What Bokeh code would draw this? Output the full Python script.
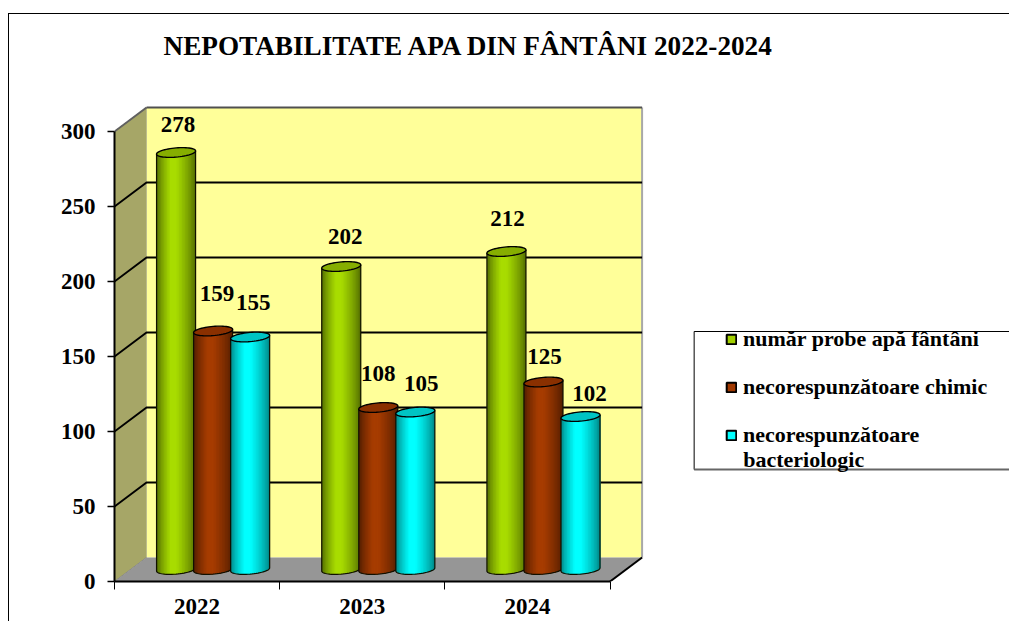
import math
from bokeh.plotting import figure
from bokeh.embed import file_html
from bokeh.resources import INLINE
from bokeh.core.properties import value
from bokeh.models import (FixedTicker, Legend, LegendItem)

# ---- data ----
years = ["2022", "2023", "2024"]
series_names = ["număr probe apă fântâni", "necorespunzătoare chimic", "necorespunzătoare"]
last_line = "bacteriologic"
probe = [278, 202, 212]
chimic = [159, 108, 125]
bacterio = [155, 105, 102]
y_ticks = [0, 50, 100, 150, 200, 250, 300]
title_text = "NEPOTABILITATE APA DIN FÂNTÂNI 2022-2024"

# ---- styles ----
body_mid = ["#A8DC00", "#A63C00", "#00FFFF"]
body_edge = ["#4C6400", "#4A1B00", "#007C7C"]
top_fill = ["#86AE00", "#8A3000", "#00C4C4"]
swatch = ["#A2D000", "#A03800", "#00FFFF"]
WALL_BACK = "#FFFF99"
WALL_SIDE = "#A6A667"
FLOOR = "#969696"
FONT = "Liberation Serif"

# pixel scales of the chart
PX_X = 165.0    # px per category
PX_Y = 1.5      # px per unit of value
DEPTH_X = 32 / PX_X
DEPTH_Y = 24 / PX_Y
XMAX = 3 + DEPTH_X
YMAX = 300 + DEPTH_Y
FRAME_W = 895
FRAME_H = 567
XEND = FRAME_W / PX_X
YEND = FRAME_H / PX_Y

p = figure(width=1001, height=608, output_backend="svg", toolbar_location=None,
           x_range=(0, XEND), y_range=(0, YEND),
           min_border_left=105, min_border_right=0, min_border_top=0, min_border_bottom=41)
p.styles = {"border-left": "1px solid black", "border-top": "1px solid black", "margin-top": "13px", "margin-left": "8px"}
p.grid.visible = False
p.outline_line_color = None
p.background_fill_color = "white"

# ---- 3D box ----
p.patch([0, DEPTH_X, DEPTH_X, 0], [0, DEPTH_Y, YMAX, 300], fill_color=WALL_SIDE, line_color="#808080", line_width=1)
p.patch([DEPTH_X, XMAX, XMAX, DEPTH_X], [DEPTH_Y, DEPTH_Y, YMAX, YMAX], fill_color=WALL_BACK, line_color=None)
p.patch([0, DEPTH_X, XMAX, 3], [0, DEPTH_Y, DEPTH_Y, 0], fill_color=FLOOR, line_color=None)
p.multi_line([[XMAX, XMAX], [DEPTH_X, XMAX], [XMAX, 3]], [[YMAX, DEPTH_Y], [YMAX, YMAX], [DEPTH_Y, 0]],
             line_color=["#A8A8A8", "#505050", "black"], line_width=2)
xs, ys = [], []
for t in y_ticks[1:-1]:
    xs.append([0, DEPTH_X, XMAX])
    ys.append([t, t + DEPTH_Y, t + DEPTH_Y])
p.multi_line(xs, ys, line_color="black", line_width=2)
p.line([0, DEPTH_X], [300, YMAX], line_color="#606060", line_width=2)

# ---- cylinders ----
RX = 19.5 / PX_X
RY = 4.6 / PX_Y
TILT = 1.6 / PX_Y
STEP = 37 / PX_X
N = 26


def hex2rgb(c):
    return [int(c[i:i + 2], 16) for i in (1, 3, 5)]


def shade(j, u):
    # u in 0..1 across the cylinder; brightest a little left of the centre
    peak = 0.42
    f = (u / peak) if u < peak else (1 - u) / (1 - peak)
    f = min(1.0, (f ** 0.7) * 1.12)
    a, b = hex2rgb(body_edge[j]), hex2rgb(body_mid[j])
    return "#%02X%02X%02X" % tuple(int(a[k] + (b[k] - a[k]) * f) for k in range(3))


def lower_arc(cx, cy, n=30):
    pts = [math.pi * (1 - i / n) for i in range(n + 1)]
    return ([cx + RX * math.cos(t) for t in pts],
            [cy - RY * math.sin(t) + TILT * math.cos(t) for t in pts])


def upper_arc(cx, cy, n=30):
    pts = [math.pi * i / n for i in range(n + 1)]
    return ([cx + RX * math.cos(t) for t in pts],
            [cy + RY * math.sin(t) + TILT * math.cos(t) for t in pts])


all_series = [probe, chimic, bacterio]
for i in range(len(years)):
    for j, vals in enumerate(all_series):
        cx = i + 0.5 + DEPTH_X / 2 + (j - 1) * STEP
        cy0 = DEPTH_Y / 2
        cy1 = vals[i] + DEPTH_Y / 2
        lx, ly = lower_arc(cx, cy0)
        ux, uy = lower_arc(cx, cy1)
        # body: strips painted left to right, each reaching to the right edge
        sx, sy, sc = [], [], []
        for s in range(N):
            k = s / N
            x0 = cx - RX + 2 * RX * k
            bx = [x0] + [a for a in lx if a > x0] + [cx + RX]
            by = []
            for a in bx:
                c = max(-1, min(1, (a - cx) / RX))
                by.append(cy0 - RY * math.sqrt(1 - c * c) + TILT * c)
            tx = [cx + RX, x0]
            ty = [cy1 + TILT, cy1 + TILT * (x0 - cx) / RX]
            sx.append(bx + tx)
            sy.append(by + ty)
            sc.append(shade(j, (s + 0.5) / N))
        p.patches(sx, sy, fill_color=sc, line_color=None)
        # outline of the body
        p.line([cx - RX] + lx + [cx + RX], [cy1 - TILT] + ly + [cy1 + TILT], line_color="#101000", line_width=1.2)
        # top ellipse
        tx2, ty2 = upper_arc(cx, cy1)
        p.patch(ux + tx2, uy + ty2, fill_color=top_fill[j], line_color="black", line_width=1.4)

# ---- value labels ----
lab_x, lab_y, lab_t, lab_dx, lab_dy = [], [], [], [], []
off_dx = [[2, 4, 3], [4, 0, 6], [1, 1, 9]]
off_dy = [[-21, -30, -27], [-23, -27, -21], [-26, -18, -16]]
for i in range(3):
    for j, vals in enumerate(all_series):
        lab_x.append(i + 0.5 + DEPTH_X / 2 + (j - 1) * STEP)
        lab_y.append(vals[i] + DEPTH_Y / 2)
        lab_t.append(str(vals[i]))
        lab_dx.append(off_dx[i][j])
        lab_dy.append(off_dy[i][j])
p.text(lab_x, lab_y, text=lab_t, x_offset=lab_dx, y_offset=lab_dy,
       text_font=value(FONT), text_font_style="bold", text_font_size="23px", text_color="black",
       text_align="center", text_baseline="bottom")

# ---- axes ----
ya = p.yaxis[0]
ya.ticker = FixedTicker(ticks=y_ticks)
ya.bounds = (0, 300)
ya.axis_line_color = "black"
ya.axis_line_width = 2
ya.major_tick_line_color = "black"
ya.major_tick_line_width = 1.5
ya.major_tick_out = 7
ya.major_tick_in = 0
ya.minor_tick_line_color = None
ya.major_label_text_font = FONT
ya.major_label_text_font_style = "bold"
ya.major_label_text_font_size = "23px"
ya.major_label_text_color = "black"
ya.major_label_standoff = 12

xa = p.xaxis[0]
xa.ticker = FixedTicker(ticks=[0.5, 1.5, 2.5], minor_ticks=[0, 1, 2, 3])
xa.major_label_overrides = {0.5: years[0], 1.5: years[1], 2.5: years[2]}
xa.bounds = (0, 3)
xa.axis_line_color = "black"
xa.axis_line_width = 2
xa.major_tick_line_color = None
xa.major_tick_out = 0
xa.major_tick_in = 0
xa.minor_tick_line_color = "black"
xa.minor_tick_out = 8
xa.minor_tick_in = 0
xa.major_label_text_font = FONT
xa.major_label_text_font_style = "bold"
xa.major_label_text_font_size = "23px"
xa.major_label_text_color = "black"
xa.major_label_standoff = 9

# ---- title ----
p.text([(163 - 114) / PX_X], [(580 - 44.5) / PX_Y], text=[title_text], text_font=value(FONT), text_font_style="bold",
       text_font_size="27.2px", text_color="black", text_align="left", text_baseline="middle")

# ---- legend ----
BOX_L = 579 / PX_X
BOX_T = 250 / PX_Y
BOX_B = 112 / PX_Y
p.multi_line([[XEND, BOX_L, BOX_L, XEND], [BOX_L, XEND]], [[BOX_T, BOX_T, BOX_B, BOX_B], [BOX_B, BOX_B]],
             line_color=["black", "#666666"], line_width=[1, 2])
items = []
for j, name in enumerate(series_names):
    r = p.quad(left=[0.5], right=[0.5], top=[0], bottom=[0],
               fill_color=swatch[j], line_color="black", line_width=2)
    items.append(LegendItem(label=name, renderers=[r]))
leg = Legend(items=items, location=(611, 133), orientation="vertical",
             border_line_color=None, background_fill_alpha=0,
             label_text_font=FONT, label_text_font_style="bold", label_text_font_size="22px",
             label_text_color="black", glyph_width=12, glyph_height=12, label_standoff=6,
             padding=0, margin=0, spacing=22)
p.add_layout(leg, "center")
p.text([(742 - 114) / PX_X], [(580 - 457.5) / PX_Y], text=[last_line], text_font=value(FONT), text_font_style="bold",
       text_font_size="22px", text_color="black", text_align="left", text_baseline="middle")

open("out.html", "w").write(file_html(p, INLINE))
